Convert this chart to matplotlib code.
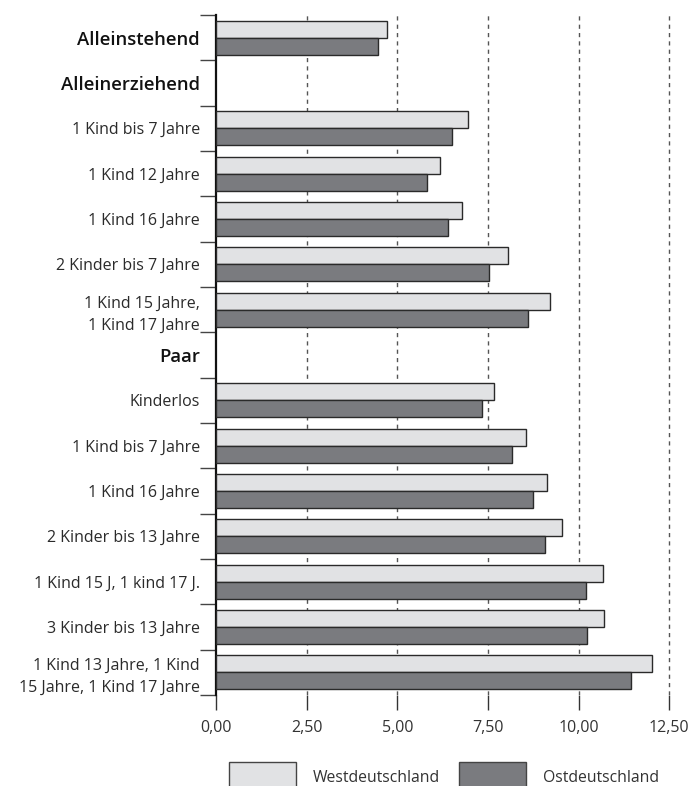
import matplotlib
matplotlib.use("Agg")
import matplotlib.pyplot as plt
import numpy as np

plt.rcParams['font.family'] = ['Open Sans', 'DejaVu Sans']

# row labels, top to bottom (None = group header without bars)
labels = ["Alleinstehend", "Alleinerziehend", "1 Kind bis 7 Jahre", "1 Kind 12 Jahre",
          "1 Kind 16 Jahre", "2 Kinder bis 7 Jahre", "1 Kind 15 Jahre,\n1 Kind 17 Jahre",
          "Paar", "Kinderlos", "1 Kind bis 7 Jahre", "1 Kind 16 Jahre",
          "2 Kinder bis 13 Jahre", "1 Kind 15 J, 1 kind 17 J.", "3 Kinder bis 13 Jahre",
          "1 Kind 13 Jahre, 1 Kind\n15 Jahre, 1 Kind 17 Jahre"]
headers = ["Alleinstehend", "Alleinerziehend", "Paar"]

west = [4.71, None, 6.94, 6.19, 6.79, 8.06, 9.20,
        None, 7.66, 8.56, 9.13, 9.55, 10.68, 10.70, 12.01]
ost = [4.46, None, 6.51, 5.82, 6.39, 7.54, 8.60,
       None, 7.33, 8.17, 8.73, 9.08, 10.21, 10.24, 11.45]

xticks = [0, 2.5, 5, 7.5, 10, 12.5]
xticklabels = ["0,00", "2,50", "5,00", "7,50", "10,00", "12,50"]

c_west = "#e1e2e4"
c_ost = "#7a7b7f"
edge = "#2a2a2a"

fig = plt.figure(figsize=(6.93, 7.86), dpi=100)
ax = fig.add_axes([216 / 693, 1 - 695 / 786, (672.9 - 216) / 693, (695 - 15) / 786])

pos = np.arange(len(labels))
h = 0.375
wy = [p - h / 2 for p, v in zip(pos, west) if v is not None]
wv = [v for v in west if v is not None]
oy = [p + h / 2 for p, v in zip(pos, ost) if v is not None]
ov = [v for v in ost if v is not None]

ax.barh(wy, wv, height=h, color=c_west, edgecolor=edge, linewidth=1, zorder=3,
        label="Westdeutschland")
ax.barh(oy, ov, height=h, color=c_ost, edgecolor=edge, linewidth=1, zorder=3,
        label="Ostdeutschland")

for x in xticks[1:]:
    ax.axvline(x, color="#555555", linestyle=(0, (3, 3)), linewidth=1, zorder=1)

ax.set_xlim(0, 12.6)
ax.set_ylim(len(labels) - 0.5, -0.5)

ax.set_xticks(xticks)
ax.set_xticklabels(xticklabels, fontsize=11.5, color="#333333")
ax.tick_params(axis='x', length=11, width=1, color="#333333", pad=7)

ax.set_yticks(np.arange(-0.5, len(labels), 1.0))
ax.set_yticklabels([])
ax.tick_params(axis='y', which='major', length=11.5, width=1, color="#444444")
ax.set_yticks(pos, minor=True)
ax.set_yticklabels(labels, minor=True, fontsize=11.5, color="#2a2a2a", linespacing=1.5)
ax.tick_params(axis='y', which='minor', length=0, pad=11.5)
for t in ax.get_yticklabels(minor=True):
    if t.get_text() in headers:
        t.set_fontweight('semibold')
        t.set_fontsize(13.3)
        t.set_color("#111111")

for s in ["top", "right", "bottom"]:
    ax.spines[s].set_visible(False)
ax.spines["left"].set_linewidth(1.6)
ax.spines["left"].set_color("#111111")

fig.legend(loc="center left", bbox_to_anchor=(229 / 693, 1 - 777 / 786), ncol=2,
           frameon=False, fontsize=11.3, handlelength=4.3, handleheight=2.5,
           handletextpad=1.05, columnspacing=1.2, borderpad=0, borderaxespad=0,
           labelcolor="#333333")
for p in fig.legends[0].get_patches():
    p.set_linewidth(1)
    p.set_edgecolor("#444444")

fig.savefig("out.png", dpi=100)
